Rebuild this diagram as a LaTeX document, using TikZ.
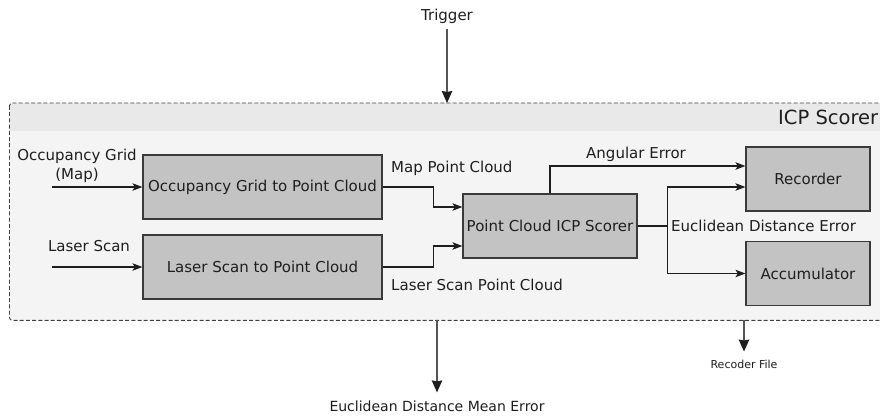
\documentclass[tikz,border=0pt]{standalone}
\usepackage{fontspec}
\setmainfont{DejaVu Sans}
\usetikzlibrary{arrows.meta,calc}

\definecolor{inkc}{HTML}{1E1E1E}
\definecolor{boxfill}{HTML}{C3C3C3}
\definecolor{boxline}{HTML}{3A3A3A}
\definecolor{bodyfill}{HTML}{F4F4F4}
\definecolor{headfill}{HTML}{E9E9E9}

\tikzset{
  txt/.style={font=\fontsize{15pt}{19pt}\selectfont, text=inkc, inner sep=0pt},
  blk/.style={txt, draw=boxline, fill=boxfill, line width=1.2pt},
  arr/.style={draw=inkc, line width=1.1pt, -{Stealth[length=10pt,width=7.5pt,inset=2.5pt]}},
  varr/.style={draw=inkc!75, line width=1.2pt, -{Stealth[length=12pt,width=10.5pt,inset=1pt,color=inkc]}},
  plain/.style={draw=inkc, line width=1.1pt},
  frame/.style={draw=inkc!85, line width=0.9pt, dash pattern=on 4pt off 2.2pt, rounded corners=3pt}
}

\begin{document}
\begin{tikzpicture}[x=1pt,y=-1pt]
\clip (0,0) rectangle (880,417);

% ICP Scorer group
\node[fill=bodyfill, inner sep=0pt, minimum width=880.5pt, minimum height=217pt,
      anchor=north west, rounded corners=3pt] (cont) at (9.5,103) {};
\begin{scope}
  \clip[rounded corners=3pt] (cont.north west) rectangle (cont.south east);
  \fill[headfill] (cont.north west) rectangle ([yshift=-28pt]cont.north east);
\end{scope}
\draw[frame] (cont.north west) rectangle (cont.south east);
\node[txt, font=\fontsize{19.5pt}{22pt}\selectfont, anchor=west] (title) at (778,117) {ICP Scorer};

% processing blocks
\node[blk, minimum width=239pt, minimum height=64pt] (og)  at (262.5,187) {Occupancy Grid to Point Cloud};
\node[blk, minimum width=239pt, minimum height=64pt] (ls)  at (262.5,267) {Laser Scan to Point Cloud};
\node[blk, minimum width=174pt, minimum height=64pt] (icp) at (550,226)   {Point Cloud ICP Scorer};
\node[blk, minimum width=124pt, minimum height=64pt] (rec) at (808,179)   {Recorder};
\node[blk, minimum width=124pt, minimum height=64pt] (acc) at (808,273.5) {Accumulator};

% inputs
\node[txt, align=center] (oglbl) at (77,165.5) {Occupancy Grid\\(Map)};
\node[txt] (lslbl) at (89,246) {Laser Scan};
\coordinate (ogin) at (52,187);
\coordinate (lsin) at (52,267);
\draw[arr] (ogin) -- (og.west);
\draw[arr] (lsin) -- (ls.west);

% point clouds into the scorer
\draw[arr] (og.east) -- ++(51,0) |- ([yshift=19pt]icp.west);
\draw[arr] (ls.east) -- ++(51,0) |- ([yshift=-20pt]icp.west);
\node[txt, anchor=west] (mpc) at (391,168) {Map Point Cloud};
\node[txt, anchor=west] (lpc) at (391,285) {Laser Scan Point Cloud};

% scorer outputs
\draw[arr] (icp.north) |- ([yshift=13pt]rec.west);
\node[txt, anchor=west] (ang) at (586,154) {Angular Error};
\draw[plain] (icp.east) -- ++(30,0) coordinate (split);
\draw[arr] (split) |- ([yshift=-8pt]rec.west);
\draw[arr] (split) |- (acc.west);
\node[txt, anchor=west] (euc) at (671,226) {Euclidean Distance Error};

% external signals
\node[txt] (trig) at (447,16) {Trigger};
\draw[varr] ([yshift=-6pt]trig.south) -- (trig |- cont.north);

\node[txt, font=\fontsize{14pt}{17pt}\selectfont] (mean) at (437,406) {Euclidean Distance Mean Error};
\draw[varr, shorten >=8pt] (cont.south -| mean) -- (mean.north);

\node[txt, font=\fontsize{11pt}{13pt}\selectfont] (rfile) at (744,364) {Recoder File};
\draw[varr] (cont.south -| rfile) -- ([yshift=8pt]rfile.north);
\end{tikzpicture}
\end{document}
